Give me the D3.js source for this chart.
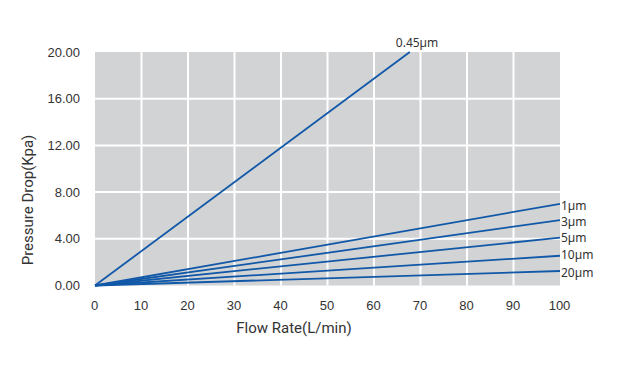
<!DOCTYPE html>
<html lang="en">
<head>
<meta charset="UTF-8">
<title>Pressure Drop</title>
<script src="https://cdn.jsdelivr.net/npm/d3@7"></script>
<style>
  body { margin: 0; background: #fff; }
  text { fill: #333; }
</style>
</head>
<body>
<script>
// series: straight lines from origin to an end point
const seriesNames = ["0.45\u00b5m", "1\u00b5m", "3\u00b5m", "5\u00b5m", "10\u00b5m", "20\u00b5m"]
const endFlow = [67.7, 100, 100, 100, 100, 100]
const endPressure = [20, 7.0, 5.6, 4.1, 2.55, 1.24]
const xTicks = [0, 10, 20, 30, 40, 50, 60, 70, 80, 90, 100]
const yTicks = [0, 4, 8, 12, 16, 20]

const w = 624, h = 388
const svg = d3.select("body").append("svg").attr("width", w).attr("height", h)

const x = d3.scaleLinear().domain([0, 100]).range([95, 560])
const y = d3.scaleLinear().domain([0, 20]).range([285.5, 52])

// gray plot area with white grid
svg.append("rect")
  .attr("x", x(0)).attr("y", y(20))
  .attr("width", x(100) - x(0)).attr("height", y(0) - y(20))
  .attr("fill", "#d2d3d5")

svg.selectAll(".vgrid").data(xTicks.slice(1, -1)).enter().append("line")
  .attr("x1", d => x(d)).attr("x2", d => x(d))
  .attr("y1", y(20)).attr("y2", y(0))
  .attr("stroke", "#fff").attr("stroke-width", 2)

svg.selectAll(".hgrid").data(yTicks.slice(1, -1)).enter().append("line")
  .attr("x1", x(0)).attr("x2", x(100))
  .attr("y1", d => y(d)).attr("y2", d => y(d))
  .attr("stroke", "#fff").attr("stroke-width", 2)

// axes (labels only)
const xAxis = svg.append("g").attr("transform", `translate(-1, ${y(0) + 9})`)
  .call(d3.axisBottom(x).tickValues(xTicks).tickSize(0).tickPadding(6))
xAxis.select(".domain").remove()
xAxis.selectAll("text").attr("font-family", "Liberation Sans, Arial, sans-serif").attr("font-size", 13).style("fill", "#333")

const yAxis = svg.append("g").attr("transform", `translate(80, 0)`)
  .call(d3.axisLeft(y).tickValues(yTicks).tickFormat(d3.format(".2f")).tickSize(0).tickPadding(0))
yAxis.select(".domain").remove()
yAxis.selectAll("text").attr("font-family", "Liberation Sans, Arial, sans-serif").attr("font-size", 13).style("fill", "#333")

// lines
const line = d3.line().x(d => x(d[0])).y(d => y(d[1]))
seriesNames.forEach((name, i) => {
  svg.append("path")
    .datum([[0, 0], [endFlow[i], endPressure[i]]])
    .attr("d", line)
    .attr("fill", "none")
    .attr("stroke", "#1159a8")
    .attr("stroke-width", 1.8)
})

// series labels, nudged off the line ends
const labelDy = [-5, 6, 5.5, 4, 3, 5.6]
seriesNames.forEach((name, i) => {
  const top = i === 0
  svg.append("text")
    .attr("x", top ? x(endFlow[i]) - 14 : x(endFlow[i]) + 1)
    .attr("y", y(endPressure[i]) + labelDy[i])
    .attr("font-family", "Noto Sans, sans-serif")
    .attr("font-size", 12)
    .text(name)
})

// titles
svg.append("text")
  .attr("x", 294).attr("y", 333)
  .attr("text-anchor", "middle")
  .attr("font-family", "Roboto, sans-serif")
  .attr("font-size", 15)
  .text("Flow Rate(L/min)")

svg.append("text")
  .attr("transform", "translate(33, 200) rotate(-90)")
  .attr("text-anchor", "middle")
  .attr("font-family", "Roboto, sans-serif")
  .attr("font-size", 15)
  .text("Pressure Drop(Kpa)")
</script>
</body>
</html>
